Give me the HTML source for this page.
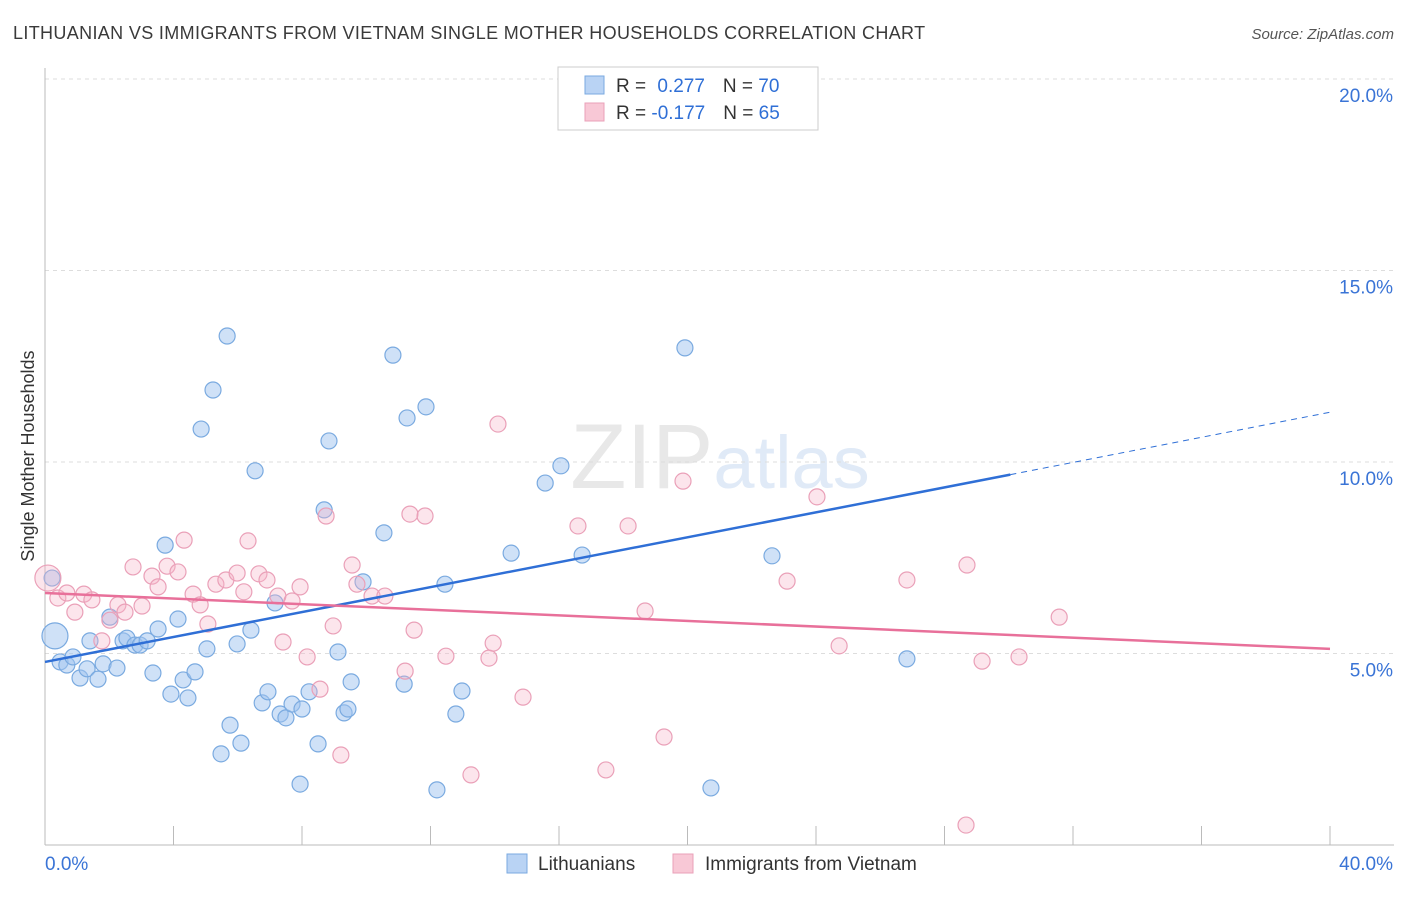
<!DOCTYPE html>
<html><head><meta charset="utf-8"><style>
body{margin:0;background:#fff;font-family:"Liberation Sans",sans-serif;}
svg text{font-family:"Liberation Sans",sans-serif;}
</style></head><body>
<svg id="chart" width="1406" height="892" viewBox="0 0 1406 892" xmlns="http://www.w3.org/2000/svg">
<text x="13" y="39" font-size="18" fill="#3a3a3a" letter-spacing="0.35">LITHUANIAN VS IMMIGRANTS FROM VIETNAM SINGLE MOTHER HOUSEHOLDS CORRELATION CHART</text>
<text x="1394" y="39" font-size="15" fill="#555" text-anchor="end" font-style="italic">Source: ZipAtlas.com</text>
<text x="720" y="488" font-size="92" text-anchor="middle" fill="#e9e9e9" font-family="Liberation Serif"><tspan fill="#e8e8e8">ZIP</tspan><tspan fill="#e0eaf7" font-family="Liberation Sans" font-size="74">atlas</tspan></text>
<text transform="translate(34,456) rotate(-90)" font-size="18" fill="#333" text-anchor="middle">Single Mother Households</text>
<g id="grid"></g><g id="axes"></g><g id="pts"></g><g id="trends"></g>
<g>
<rect x="558" y="67" width="260" height="63" fill="#fff" stroke="#ccc"/>
<rect x="585" y="76" width="19" height="18" fill="#b9d3f4" stroke="#7aaae0"/>
<text x="616" y="92" font-size="19" fill="#333">R = <tspan fill="#2f6fd6" dx="6">0.277</tspan><tspan dx="18" fill="#333">N = </tspan><tspan fill="#2f6fd6">70</tspan></text>
<rect x="585" y="103" width="19" height="18" fill="#f8c8d6" stroke="#eaa0b8"/>
<text x="616" y="119" font-size="19" fill="#333">R = <tspan fill="#2f6fd6">-0.177</tspan><tspan dx="18" fill="#333">N = </tspan><tspan fill="#2f6fd6">65</tspan></text>
</g>
<g>
<rect x="507" y="854" width="20" height="19" fill="#b9d3f4" stroke="#7aaae0"/>
<text x="538" y="870" font-size="19" fill="#333">Lithuanians</text>
<rect x="673" y="854" width="20" height="19" fill="#f8c8d6" stroke="#eaa0b8"/>
<text x="705" y="870" font-size="19" fill="#333">Immigrants from Vietnam</text>
</g>
</svg>
<script>
const yTicks=[5,10,15,20];
const yTickLabels=["5.0%","10.0%","15.0%","20.0%"];
const xEnds=["0.0%","40.0%"];
const blueX=[0.22,0.31,0.47,0.68,0.87,1.09,1.31,1.65,1.40,1.81,2.02,2.24,2.43,2.55,2.80,2.96,3.18,3.36,3.52,3.74,3.92,4.14,4.30,4.45,4.67,4.86,5.04,5.23,5.48,5.67,5.76,5.98,6.10,6.41,6.54,6.76,6.94,7.16,7.32,7.50,7.69,8.00,7.94,8.22,8.50,8.69,8.84,9.12,9.31,9.43,9.53,9.90,10.55,10.83,11.18,11.27,11.86,12.20,12.45,12.79,12.98,14.51,15.57,16.06,16.72,19.92,20.73,22.63,26.83,17.46];
const blueY=[6.97,5.46,4.78,4.70,4.91,4.36,4.60,4.33,5.33,4.73,5.95,4.62,5.33,5.40,5.22,5.22,5.33,4.49,5.64,7.83,3.94,5.90,4.31,3.84,4.52,10.86,5.12,11.88,2.38,13.29,3.13,5.25,2.66,5.61,9.77,3.71,4.00,6.32,3.42,3.32,3.68,3.55,1.59,4.00,2.64,8.75,10.55,5.04,3.45,3.55,4.26,6.87,8.15,12.79,4.20,11.15,11.44,1.44,6.81,3.42,4.02,7.62,9.45,9.90,7.57,12.98,1.49,7.55,4.86,19.92];
const pinkX=[0.09,0.40,0.68,0.93,1.21,1.46,1.77,2.02,2.27,2.49,2.74,3.02,3.33,3.52,3.80,4.14,4.33,4.61,4.83,5.07,5.32,5.63,5.98,6.19,6.32,6.66,6.91,7.25,7.41,7.69,7.94,8.16,8.56,8.75,8.97,9.21,9.56,9.71,10.18,10.58,11.21,11.36,11.49,11.83,12.48,13.26,13.82,13.95,14.10,14.88,16.59,17.46,18.15,18.68,19.27,19.86,23.10,24.03,24.72,26.83,28.67,28.70,29.17,30.32,31.57];
const pinkY=[6.97,6.45,6.58,6.08,6.55,6.40,5.33,5.87,6.27,6.08,7.26,6.24,7.02,6.74,7.28,7.13,7.96,6.55,6.27,5.77,6.81,6.92,7.10,6.61,7.94,7.08,6.92,6.50,5.30,6.37,6.74,4.91,4.07,8.59,5.72,2.35,7.31,6.81,6.50,6.50,4.54,8.64,5.61,8.59,4.93,1.83,4.88,5.27,10.99,3.86,8.33,1.96,8.33,6.11,2.82,9.50,6.89,9.09,5.20,6.92,0.52,7.31,4.80,4.91,5.95];
const blueTrend=[4.78,9.67,11.3];
const pinkTrend=[6.58,5.12];
const NS="http://www.w3.org/2000/svg";
const X=v=>45+v/40*1285, Y=v=>845-v/5*191.5;
function mk(t,a,p){const e=document.createElementNS(NS,t);for(const k in a)e.setAttribute(k,a[k]);p.appendChild(e);return e;}
const grid=document.getElementById('grid'),axes=document.getElementById('axes'),pts=document.getElementById('pts'),tr=document.getElementById('trends');
yTicks.forEach((t,i)=>{
 const l=mk('line',{x1:45,x2:1394,y1:Y(t),y2:Y(t),stroke:'#ddd','stroke-dasharray':'4,4'},grid);
 
 
 const tx=mk('text',{x:1393,y:Y(t)+23,'font-size':19,fill:'#3a74d6','text-anchor':'end'},grid);
 tx.textContent=yTickLabels[i];
 
 
});
const ax=mk('line',{x1:45,x2:1394,y1:845,y2:845,stroke:'#bbb'},axes);


const ay=mk('line',{x1:45,x2:45,y1:68,y2:845,stroke:'#bbb'},axes);


for(let i=0;i<=10;i++){const t=mk('line',{x1:X(i*4),x2:X(i*4),y1:826,y2:845,stroke:'#bbb'},axes);
 
 }
[[0,'start',45],[40,'end',1393]].forEach((d,i)=>{const t=mk('text',{x:d[2],y:870,'font-size':19,fill:'#3a74d6','text-anchor':d[1]},axes);t.textContent=xEnds[i];
 
 });
function dots(xs,ys,fill,stroke,name,bigIdx){xs.forEach((x,i)=>{const r=bigIdx.indexOf(i)>=0?13:8;const c=mk('circle',{cx:X(x),cy:Y(ys[i]),r:r,fill:fill,stroke:stroke,'stroke-width':1.2},pts);
 
 });}
dots(blueX,blueY,'rgba(160,195,240,0.5)','#7aaae0','lithuanian-point',[1]);
dots(pinkX,pinkY,'rgba(245,180,200,0.35)','#eaa0b8','vietnam-point',[0]);
const b1=mk('line',{x1:X(0),y1:Y(blueTrend[0]),x2:X(30.05),y2:Y(blueTrend[1]),stroke:'#2f6fd6','stroke-width':2.5},tr);


const b2=mk('line',{x1:X(30.05),y1:Y(blueTrend[1]),x2:X(40),y2:Y(blueTrend[2]),stroke:'#2f6fd6','stroke-width':1,'stroke-dasharray':'6,5'},tr);


const p1=mk('line',{x1:X(0),y1:Y(pinkTrend[0]),x2:X(40),y2:Y(pinkTrend[1]),stroke:'#e8709a','stroke-width':2.5},tr);


</script>
</body></html>
